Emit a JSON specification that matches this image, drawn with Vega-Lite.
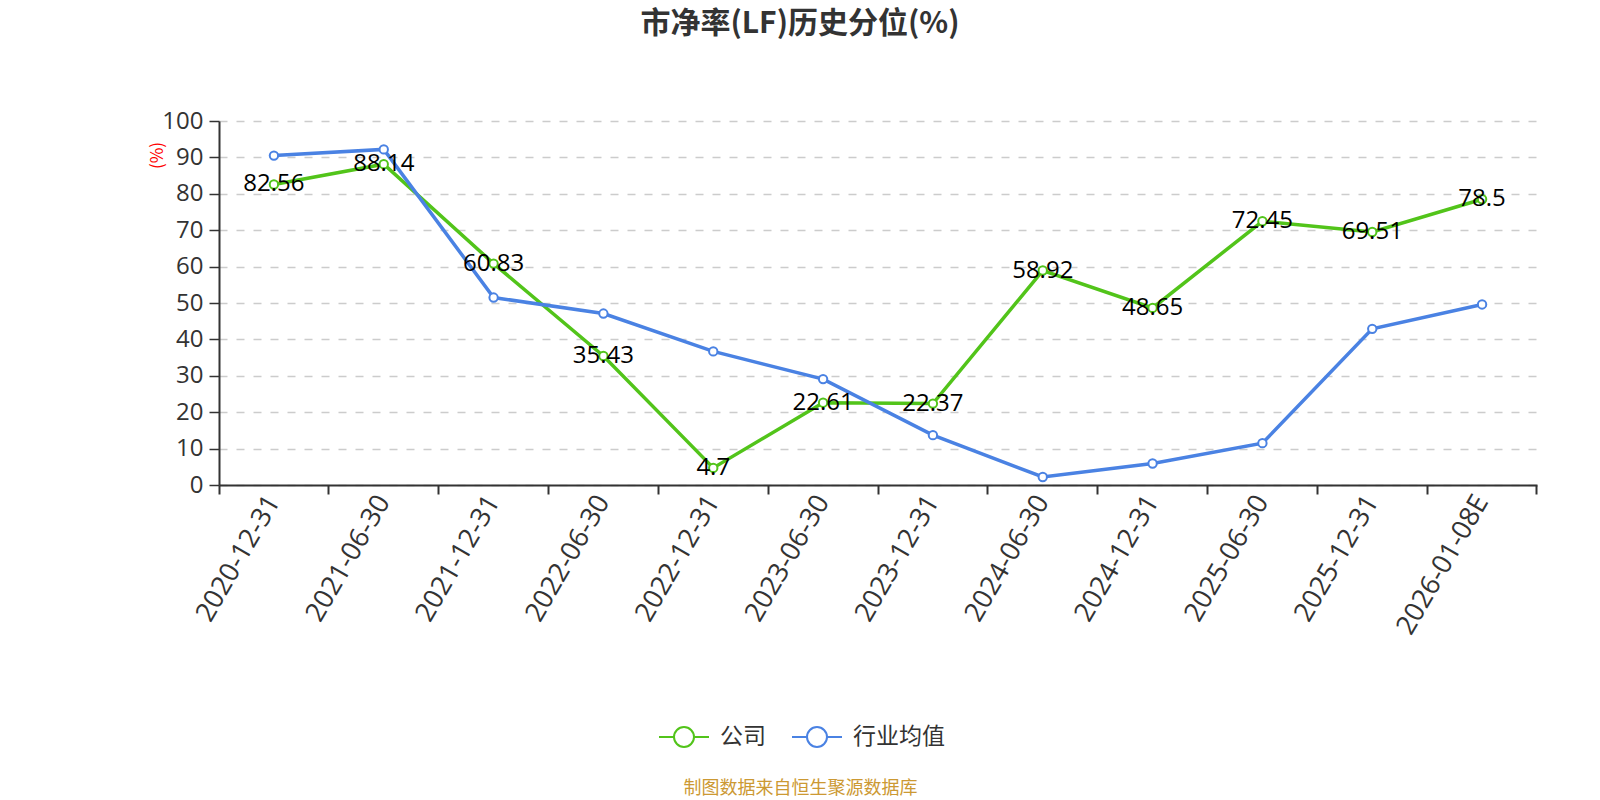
{
  "$schema": "https://vega.github.io/schema/vega-lite/v6.json",
  "autosize": {"type": "none"},
  "padding": {"left": 219, "top": 121, "right": 63, "bottom": 315},
  "width": 1318,
  "height": 364,
  "background": "white",
  "title": {
    "text": "市净率(LF)历史分位(%)",
    "fontSize": 30,
    "fontWeight": "bold",
    "color": "#333333",
    "font": "Noto Sans CJK SC",
    "offset": 70,
    "dx": -78
  },
  "data": {
    "values": [
      {"date": "2020-12-31", "series": "公司", "value": 82.56},
      {"date": "2021-06-30", "series": "公司", "value": 88.14},
      {"date": "2021-12-31", "series": "公司", "value": 60.83},
      {"date": "2022-06-30", "series": "公司", "value": 35.43},
      {"date": "2022-12-31", "series": "公司", "value": 4.7},
      {"date": "2023-06-30", "series": "公司", "value": 22.61},
      {"date": "2023-12-31", "series": "公司", "value": 22.37},
      {"date": "2024-06-30", "series": "公司", "value": 58.92},
      {"date": "2024-12-31", "series": "公司", "value": 48.65},
      {"date": "2025-06-30", "series": "公司", "value": 72.45},
      {"date": "2025-12-31", "series": "公司", "value": 69.51},
      {"date": "2026-01-08E", "series": "公司", "value": 78.5},
      {"date": "2020-12-31", "series": "行业均值", "value": 90.5},
      {"date": "2021-06-30", "series": "行业均值", "value": 92.2},
      {"date": "2021-12-31", "series": "行业均值", "value": 51.5},
      {"date": "2022-06-30", "series": "行业均值", "value": 47.1},
      {"date": "2022-12-31", "series": "行业均值", "value": 36.7},
      {"date": "2023-06-30", "series": "行业均值", "value": 29.1},
      {"date": "2023-12-31", "series": "行业均值", "value": 13.7},
      {"date": "2024-06-30", "series": "行业均值", "value": 2.2},
      {"date": "2024-12-31", "series": "行业均值", "value": 5.9},
      {"date": "2025-06-30", "series": "行业均值", "value": 11.5},
      {"date": "2025-12-31", "series": "行业均值", "value": 42.9},
      {"date": "2026-01-08E", "series": "行业均值", "value": 49.6}
    ]
  },
  "encoding": {
    "y": {
      "field": "value",
      "type": "quantitative",
      "scale": {"domain": [0, 100], "nice": false},
      "axis": {
        "title": "(%)",
        "titleColor": "red",
        "titleFontSize": 17,
        "titleFontWeight": "normal",
        "titleX": -62,
        "titleY": 34,
        "titleAlign": "center",
        "titleBaseline": "middle",
        "values": [0, 10, 20, 30, 40, 50, 60, 70, 80, 90, 100],
        "labelOverlap": false,
        "labelFont": "Open Sans",
        "labelFontSize": 24,
        "labelColor": "#333333",
        "labelPadding": 6,
        "tickSize": 10,
        "tickWidth": 1.5,
        "tickColor": "#333333",
        "domainColor": "#333333",
        "domainWidth": 2,
        "gridDash": [8, 9],
        "gridColor": "#cccccc",
        "gridWidth": 1.5
      }
    },
    "color": {
      "field": "series",
      "type": "nominal",
      "scale": {"domain": ["公司", "行业均值"], "range": ["#52c41a", "#4a82e3"]},
      "legend": {
        "title": null,
        "orient": "none",
        "direction": "horizontal",
        "legendX": 439,
        "legendY": 590,
        "symbolType": "M-1,0L-0.4,0M0.4,0L1,0M-0.4,0A0.4,0.4 0 1,0 0.4,0A0.4,0.4 0 1,0 -0.4,0",
        "symbolSize": 2500,
        "symbolStrokeWidth": 2,
        "symbolFillColor": "white",
        "labelFontSize": 23,
        "labelColor": "#333333",
        "labelOffset": 10,
        "columnPadding": 22,
        "encode": {"symbols": {"update": {"fill": {"value": "white"}, "opacity": {"value": 1}}}}
      }
    }
  },
  "layer": [
    {
      "mark": {"type": "line", "strokeWidth": 3.5},
      "encoding": {
        "x": {
          "field": "date",
          "type": "nominal",
          "sort": null,
          "bandPosition": 0.5,
          "scale": {"type": "band", "paddingInner": 0, "paddingOuter": 0},
          "axis": {
            "orient": "bottom",
            "title": "制图数据来自恒生聚源数据库",
            "titleFontSize": 18,
            "titleFontWeight": "normal",
            "titleColor": "#cc9933",
            "titleFont": "Noto Sans CJK SC",
            "titleX": 581,
            "titleY": 294,
            "titleAlign": "center",
            "labelAngle": -60,
            "labelFont": "Open Sans",
            "labelFontSize": 27,
            "labelColor": "#333333",
            "labelPadding": 12,
            "ticks": false,
            "domain": false,
            "grid": false
          }
        }
      }
    },
    {
      "mark": {
        "type": "point",
        "shape": "circle",
        "filled": false,
        "fill": "white",
        "fillOpacity": 1,
        "opacity": 1,
        "size": 70,
        "strokeWidth": 2
      },
      "encoding": {
        "x": {
          "field": "date",
          "type": "nominal",
          "sort": null,
          "bandPosition": 0.5,
          "axis": {
            "orient": "bottom",
            "title": null,
            "labels": false,
            "bandPosition": 0,
            "ticks": true,
            "tickSize": 9,
            "tickWidth": 2,
            "tickColor": "#333333",
            "domain": true,
            "domainColor": "#333333",
            "domainWidth": 2,
            "grid": false
          }
        }
      }
    },
    {
      "transform": [{"filter": "datum.series === '公司'"}],
      "mark": {
        "type": "text",
        "font": "Open Sans",
        "fontSize": 24,
        "color": "black",
        "align": "center",
        "baseline": "middle"
      },
      "encoding": {
        "x": {
          "field": "date",
          "type": "nominal",
          "sort": null,
          "bandPosition": 0.5,
          "axis": {
            "orient": "bottom",
            "title": null,
            "labels": false,
            "values": ["2026-01-08E"],
            "bandPosition": 1,
            "ticks": true,
            "tickSize": 9,
            "tickWidth": 2,
            "tickColor": "#333333",
            "domain": false,
            "grid": false
          }
        },
        "color": {"value": "black"},
        "text": {"field": "value", "type": "nominal"}
      }
    }
  ],
  "resolve": {"axis": {"x": "independent"}},
  "config": {
    "font": "Noto Sans CJK SC",
    "view": {"stroke": null}
  }
}
